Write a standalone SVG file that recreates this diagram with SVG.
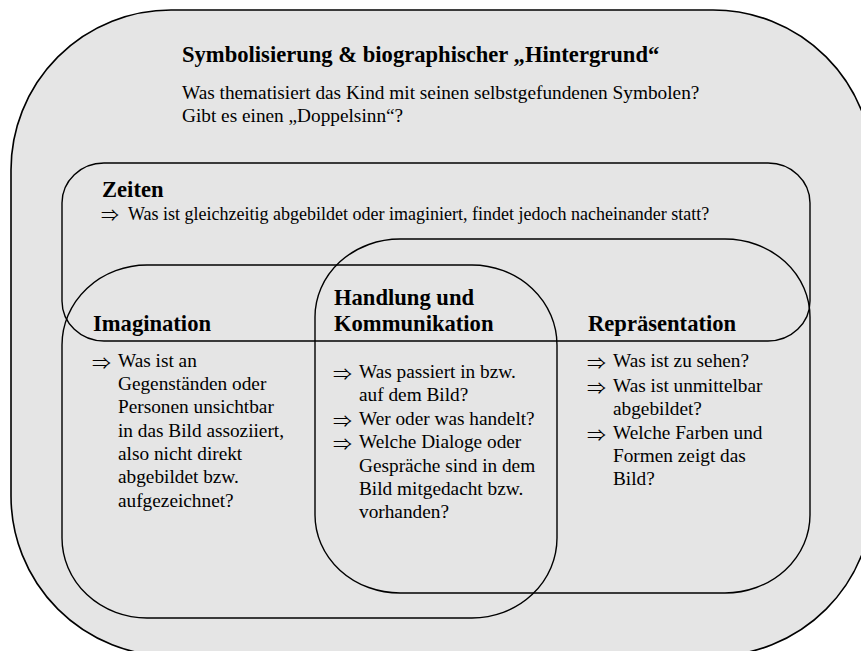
<svg xmlns="http://www.w3.org/2000/svg" width="861" height="651" viewBox="0 0 861 651">
<style>
.box{fill:none;stroke:#000;stroke-width:1.4}
.outer{fill:#e5e5e5;stroke:#000;stroke-width:1.6}
text{font-family:"Liberation Serif","Times New Roman",serif;fill:#000}
.h{font-weight:bold;font-size:22.6px}
.t{font-size:19.3px}
.b{font-size:19.3px}
.z{font-size:18px}
.ar{font-family:"Noto Sans CJK JP","DejaVu Serif",serif;font-size:15.5px}
</style>
<rect width="861" height="651" fill="#fff"/>
<g id="symbolisierung">
<rect class="outer" x="11" y="10" width="862" height="646" rx="160" ry="160"/>
<text class="h" x="182" y="62">Symbolisierung &amp; biographischer „Hintergrund“</text>
<text class="t" x="182" y="99">Was thematisiert das Kind mit seinen selbstgefundenen Symbolen?</text>
<text class="t" x="182" y="122">Gibt es einen „Doppelsinn“?</text>
</g>
<g id="zeiten">
<rect class="box" x="62" y="163" width="748" height="178" rx="42" ry="40"/>
<text class="h" x="102" y="197">Zeiten</text>
<text class="ar" x="101" y="221" textLength="18" lengthAdjust="spacingAndGlyphs">⇒</text>
<text class="z" x="128" y="220">Was ist gleichzeitig abgebildet oder imaginiert, findet jedoch nacheinander statt?</text>
</g>
<g id="imagination">
<rect class="box" x="62" y="265" width="495" height="353" rx="85" ry="80"/>
<text class="h" x="93" y="331">Imagination</text>
<text class="ar" x="92" y="368.5" textLength="19" lengthAdjust="spacingAndGlyphs">⇒</text>
<text class="b" x="118" y="367">Was ist an</text>
<text class="b" x="118" y="390">Gegenständen oder</text>
<text class="b" x="118" y="413">Personen unsichtbar</text>
<text class="b" x="118" y="437">in das Bild assoziiert,</text>
<text class="b" x="118" y="460">also nicht direkt</text>
<text class="b" x="118" y="483">abgebildet bzw.</text>
<text class="b" x="118" y="507">aufgezeichnet?</text>
</g>
<g id="repraesentation">
<rect class="box" x="315" y="239" width="495" height="354" rx="85" ry="78"/>
<text class="h" x="588" y="331">Repräsentation</text>
<text class="ar" x="587" y="368.5" textLength="19" lengthAdjust="spacingAndGlyphs">⇒</text>
<text class="b" x="613" y="367">Was ist zu sehen?</text>
<text class="ar" x="587" y="393.5" textLength="19" lengthAdjust="spacingAndGlyphs">⇒</text>
<text class="b" x="613" y="392">Was ist unmittelbar</text>
<text class="b" x="613" y="415">abgebildet?</text>
<text class="ar" x="587" y="440.5" textLength="19" lengthAdjust="spacingAndGlyphs">⇒</text>
<text class="b" x="613" y="439">Welche Farben und</text>
<text class="b" x="613" y="462">Formen zeigt das</text>
<text class="b" x="613" y="485">Bild?</text>
</g>
<g id="handlung">
<text class="h" x="334" y="305">Handlung und</text>
<text class="h" x="334" y="331">Kommunikation</text>
<text class="ar" x="333" y="379.5" textLength="19" lengthAdjust="spacingAndGlyphs">⇒</text>
<text class="b" x="359" y="378">Was passiert in bzw.</text>
<text class="b" x="359" y="401">auf dem Bild?</text>
<text class="ar" x="333" y="426.5" textLength="19" lengthAdjust="spacingAndGlyphs">⇒</text>
<text class="b" x="359" y="425">Wer oder was handelt?</text>
<text class="ar" x="333" y="449.5" textLength="19" lengthAdjust="spacingAndGlyphs">⇒</text>
<text class="b" x="359" y="448">Welche Dialoge oder</text>
<text class="b" x="359" y="472">Gespräche sind in dem</text>
<text class="b" x="359" y="495">Bild mitgedacht bzw.</text>
<text class="b" x="359" y="518">vorhanden?</text>
</g>
<g id="connectors"/>
</svg>
